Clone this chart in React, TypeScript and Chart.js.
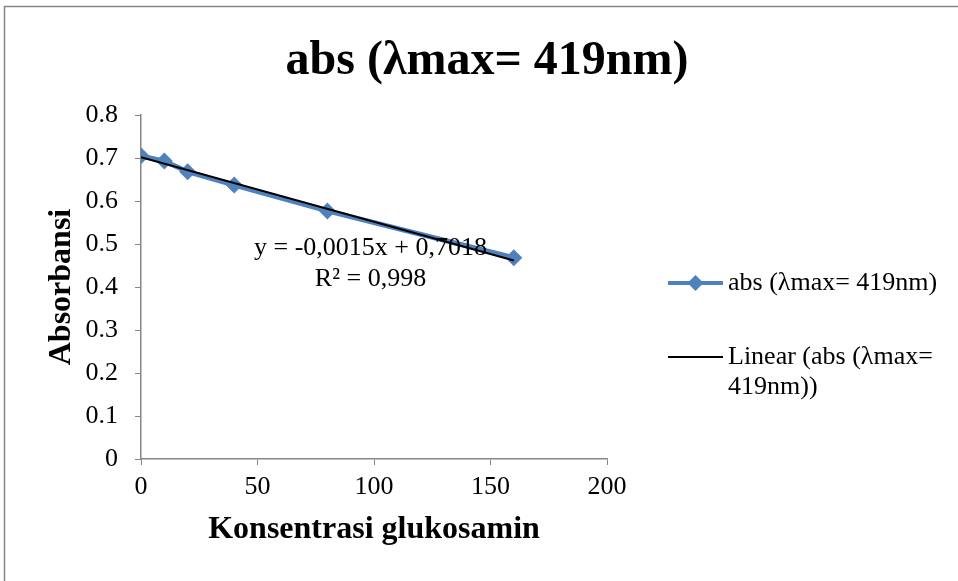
import React, { useEffect, useRef } from "react";
import { Chart, registerables } from "chart.js";

Chart.register(...registerables);

const chartTitle = "abs (λmax= 419nm)";
const seriesName = "abs (λmax= 419nm)";
const trendName = ["Linear (abs (λmax=", "419nm))"];
const concentrations = [0, 10, 20, 40, 80, 160];
const absorbances = [0.705, 0.693, 0.668, 0.637, 0.577, 0.468];
const trendSlope = -0.0015;
const trendIntercept = 0.7018;
const equationLines = ["y = -0,0015x + 0,7018", "R² = 0,998"];
const xTitle = "Konsentrasi glukosamin";
const yTitle = "Absorbansi";

const SERIF = "'Liberation Serif', 'Times New Roman', serif";
const BLUE = "#4F81BD";

const overlayPlugin = {
  id: "overlay",
  afterDraw(chart: any) {
    const ctx = chart.ctx;
    const xs = chart.scales.x;
    const ys = chart.scales.y;
    ctx.save();
    // title
    ctx.fillStyle = "#000";
    ctx.font = `bold 48px ${SERIF}`;
    ctx.textAlign = "center";
    ctx.textBaseline = "middle";
    ctx.fillText(chartTitle, 487, 62);

    // equation text
    ctx.font = `26px ${SERIF}`;
    const ex = xs.getPixelForValue(98.5);
    const ey = ys.getPixelForValue(0.49);
    ctx.fillText(equationLines[0], ex, ey);
    ctx.fillText(equationLines[1], ex, ey + 31);

    // legend
    const lx0 = chart.chartArea.right + 61;
    const lx1 = lx0 + 55;
    const ly1 = ys.getPixelForValue(0.4) - 4;
    ctx.strokeStyle = BLUE;
    ctx.lineWidth = 4;
    ctx.beginPath();
    ctx.moveTo(lx0, ly1);
    ctx.lineTo(lx1, ly1);
    ctx.stroke();
    const dx = (lx0 + lx1) / 2;
    ctx.fillStyle = BLUE;
    ctx.beginPath();
    ctx.moveTo(dx, ly1 - 8);
    ctx.lineTo(dx + 8, ly1);
    ctx.lineTo(dx, ly1 + 8);
    ctx.lineTo(dx - 8, ly1);
    ctx.closePath();
    ctx.fill();
    ctx.fillStyle = "#000";
    ctx.textAlign = "left";
    ctx.fillText(seriesName, lx1 + 5, ly1);

    const ly2 = ly1 + 74;
    ctx.strokeStyle = "#000";
    ctx.lineWidth = 2;
    ctx.beginPath();
    ctx.moveTo(lx0, ly2);
    ctx.lineTo(lx1, ly2);
    ctx.stroke();
    ctx.fillText(trendName[0], lx1 + 5, ly2);
    ctx.fillText(trendName[1], lx1 + 5, ly2 + 30);

    // frame
    ctx.strokeStyle = "#868686";
    ctx.lineWidth = 1.5;
    ctx.strokeRect(4.5, 6.5, 970, 600);
    ctx.restore();
  },
};

export default function App() {
  const ref = useRef<HTMLCanvasElement | null>(null);
  useEffect(() => {
    if (!ref.current) return;
    const trendX = [concentrations[0], concentrations[concentrations.length - 1]];
    const chart = new Chart(ref.current, {
      type: "scatter",
      data: {
        datasets: [
          {
            label: seriesName,
            data: concentrations.map((x, i) => ({ x, y: absorbances[i] })),
            showLine: true,
            borderColor: BLUE,
            backgroundColor: BLUE,
            borderWidth: 5,
            pointStyle: "rectRot",
            pointRadius: 8.5,
            pointBorderWidth: 0,
            order: 2,
          },
          {
            label: "Linear",
            data: trendX.map((x) => ({ x, y: trendSlope * x + trendIntercept })),
            showLine: true,
            borderColor: "#000",
            borderWidth: 2,
            pointRadius: 0,
            order: 1,
          },
        ],
      },
      options: {
        animation: false,
        responsive: false,
        layout: { padding: { left: 0, right: 351, top: 115, bottom: 0 } },
        plugins: {
          legend: { display: false },
          tooltip: { enabled: false },
          title: { display: false },
        },
        scales: {
          x: {
            type: "linear",
            min: 0,
            max: 200,
            ticks: { stepSize: 50, color: "#000", font: { family: SERIF, size: 26 }, padding: 7 },
            grid: { display: true, drawOnChartArea: false, drawTicks: true, tickLength: 6, color: "#868686" },
            border: { color: "#868686", width: 1.5 },
            title: {
              display: true,
              text: xTitle,
              color: "#000",
              font: { family: SERIF, size: 32, weight: "bold" },
              padding: { top: 0, bottom: 32 },
            },
            afterFit(scale: any) {
              scale.height = 122;
            },
          },
          y: {
            type: "linear",
            min: 0,
            max: 0.8,
            ticks: { stepSize: 0.1, color: "#000", font: { family: SERIF, size: 26 }, padding: 17 },
            grid: { display: true, drawOnChartArea: false, drawTicks: true, tickLength: 6, color: "#868686" },
            border: { color: "#868686", width: 1.5 },
            title: {
              display: true,
              text: yTitle,
              color: "#000",
              font: { family: SERIF, size: 32, weight: "bold" },
              padding: { top: 43, bottom: 0 },
            },
            afterFit(scale: any) {
              scale.width = 141;
            },
          },
        },
      },
      plugins: [overlayPlugin],
    });
    return () => chart.destroy();
  }, []);
  return (
    <div style={{ position: "fixed", left: 0, top: 0, width: 958, height: 581, background: "#fff" }}>
      <canvas ref={ref} width={958} height={581} style={{ display: "block" }} />
    </div>
  );
}
